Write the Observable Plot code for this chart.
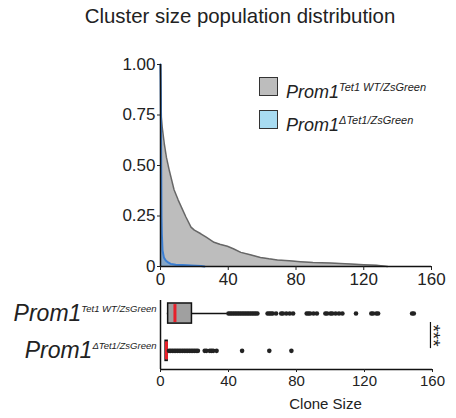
<!DOCTYPE html>
<html><head><meta charset="utf-8">
<script src="https://cdn.jsdelivr.net/npm/d3@7"></script>
<script src="https://cdn.jsdelivr.net/npm/@observablehq/plot@0.6"></script>
<style>
body{margin:0;background:#fff;}
#wrap{position:relative;width:456px;height:418px;font-family:"Liberation Sans",Arial,sans-serif;color:#222;overflow:hidden;background:#fff}
#wrap svg{position:absolute;left:0;overflow:visible}
#title{position:absolute;left:0;width:480px;top:5px;text-align:center;font-size:20.4px;white-space:nowrap}
.lg{position:absolute;left:286px;font-size:18px;line-height:18px;white-space:nowrap}
.lg i{font-style:italic}
.lg span{font-size:11px;font-style:italic;vertical-align:7px}
.sw{position:absolute;left:259px;width:17px;height:17px;border:1.5px solid #333;box-sizing:content-box}
</style></head><body><div id="wrap"></div>
<script>
const title = "Cluster size population distribution";
const gene = "Prom1";
const genotypes = ["Tet1 WT/ZsGreen", "\u0394Tet1/ZsGreen"];
const xTicks = [0, 40, 80, 120, 160];
const yTicks = [0, 0.25, 0.5, 0.75, 1];
// survival curves (fraction of clusters with size >= x)
const wtX = [0,0.5,1,2.2,3.5,5.2,8,10.4,12,15,18,20,23.8,27,31.6,35,39.5,43,47.4,53,59,64,69,76,82.6,90,100,112,120,127.5,134];
const wtSurv = [1,0.74,0.69,0.61,0.54,0.475,0.38,0.33,0.30,0.245,0.195,0.18,0.162,0.145,0.12,0.11,0.10,0.088,0.07,0.058,0.045,0.038,0.032,0.028,0.024,0.02,0.017,0.012,0.009,0.006,0];
const koX = [0,0.3,0.6,0.8,1.2,2,3.1,4.5,6,9,13,18,24,26];
const koSurv = [1,0.7,0.245,0.16,0.079,0.045,0.03,0.02,0.013,0.009,0.007,0.005,0.003,0];
// box summaries [WT, KO]
const boxMin = [4, 3];
const boxQ1 = [4.5, 3];
const boxMedian = [8.5, 3.5];
const boxQ3 = [18.5, 4.2];
const boxMax = [40, 5];
const wtOutliers = [40,41,42,43,44,45,46,47,48,49,50,51,52,53,54,55,56,57,63,64,65,66,68,71,72,74,76,78,86,87,88,90,92,97,98,100,101,103,105,107,115,124,125,127,128,148,149];
const koOutliers = [5,6,7,8,9,10,11,12,13,14,15,16,17,18,19,20,21,22,26,27,29,30,31,33,48,64,77];
const signif = "***";
const xLabel = "Clone Size";

const wrap = document.getElementById("wrap");
const font = '"Liberation Sans",Arial,sans-serif';

const wt = wtX.map((x, i) => ({x, y: wtSurv[i]}));
const ko = koX.map((x, i) => ({x, y: koSurv[i]}));

const topChart = Plot.plot({
  width: 456, height: 290,
  marginLeft: 160, marginRight: 25, marginTop: 64, marginBottom: 24,
  x: {domain: [0, 160]},
  y: {domain: [0, 1]},
  style: {fontFamily: font, color: "#222", background: "transparent", overflow: "visible"},
  marks: [
    Plot.areaY(wt, {x: "x", y: "y", fill: "#bdbdbd"}),
    Plot.lineY(wt, {x: "x", y: "y", stroke: "#676767", strokeWidth: 1.5}),
    Plot.areaY(ko, {x: "x", y: "y", fill: "#86a6c6"}),
    Plot.lineY(ko, {x: "x", y: "y", stroke: "#3b7fd4", strokeWidth: 2}),
    Plot.ruleX([0], {y1: 0, y2: 1, stroke: "#111", strokeWidth: 1.5}),
    Plot.ruleY([0], {x1: 0, x2: 160, stroke: "#111", strokeWidth: 1.5}),
    Plot.axisX({ticks: xTicks, tickSize: 4, tickPadding: 2, fontSize: 17, label: null}),
    Plot.axisY({ticks: yTicks, tickSize: 3, tickPadding: 2, fontSize: 17, label: null,
      tickFormat: d => d === 0 ? "0" : d3.format(".2f")(d)})
  ]
});
topChart.style.top = "0px";
wrap.appendChild(topChart);

const rows = [0, 1].map(i => ({row: i, min: boxMin[i], q1: boxQ1[i], med: boxMedian[i], q3: boxQ3[i], max: boxMax[i]}));
const outl = [...wtOutliers.map(v => ({v, row: 0})), ...koOutliers.map(v => ({v, row: 1}))];
const hb = 0.27;

const bottomChart = Plot.plot({
  width: 456, height: 128,
  marginLeft: 160, marginRight: 24, marginTop: 10, marginBottom: 49,
  x: {domain: [0, 160]},
  y: {domain: [-0.35, 1.5], reverse: true},
  style: {fontFamily: font, color: "#222", background: "transparent", overflow: "visible"},
  marks: [
    Plot.ruleX([0], {y1: -0.35, y2: 1.5, stroke: "#111", strokeWidth: 1.5}),
    Plot.ruleY([1.5], {x1: 0, x2: 160, stroke: "#111", strokeWidth: 1.5}),
    Plot.ruleY(rows, {y: "row", x1: "min", x2: "max", stroke: "#111", strokeWidth: 1.5}),
    Plot.rect(rows, {x1: "q1", x2: "q3", y1: d => d.row - hb, y2: d => d.row + hb, fill: "#a0a0a0", stroke: "#111", strokeWidth: 1.5}),
    Plot.ruleX(rows, {x: "med", y1: d => d.row - hb + 0.03, y2: d => d.row + hb - 0.03, stroke: "#e8202a", strokeWidth: 3}),
    Plot.dot(outl, {x: "v", y: "row", r: 2.3, fill: "#222", stroke: null}),
    Plot.ruleX([158.8], {y1: 0.24, y2: 0.94, stroke: "#111", strokeWidth: 1.2}),
    Plot.text([signif], {x: 158.8, y: 0.59, rotate: 90, dx: 3, fontSize: 19, fill: "#222"}),
    Plot.text([xLabel], {frameAnchor: "bottom", dx: 29, dy: 39, fontSize: 15, fill: "#222"}),
    Plot.axisX({ticks: xTicks, tickSize: 3, tickPadding: 3, fontSize: 15, label: null}),
    Plot.axisY({ticks: [0, 1], tickFormat: i => genotypes[i], tickSize: 0, tickPadding: 4, fontSize: 23, label: null})
  ]
});
bottomChart.style.top = "290px";
wrap.appendChild(bottomChart);

// superscript row labels
const NS = "http://www.w3.org/2000/svg";
bottomChart.querySelectorAll("text").forEach(t => {
  const s = t.textContent;
  const gi = genotypes.indexOf(s);
  if (gi < 0) return;
  t.textContent = "";
  const a = document.createElementNS(NS, "tspan");
  a.setAttribute("font-style", "italic");
  a.textContent = gene;
  const b = document.createElementNS(NS, "tspan");
  b.setAttribute("font-style", "italic");
  b.setAttribute("font-size", "9.5");
  b.setAttribute("dy", "-9");
  b.textContent = s;
  t.appendChild(a); t.appendChild(b);
});

// title
const tt = document.createElement("div");
tt.id = "title"; tt.textContent = title;
wrap.appendChild(tt);

// legend
const legendFill = ["#bdbdbd", "#a8dcf2"];
const legendTop = [77, 110];
genotypes.forEach((g, i) => {
  const sw = document.createElement("div");
  sw.className = "sw"; sw.style.top = legendTop[i] + "px"; sw.style.background = legendFill[i];
  wrap.appendChild(sw);
  const lg = document.createElement("div");
  lg.className = "lg"; lg.style.top = (legendTop[i] + 1) + "px";
  const it = document.createElement("i"); it.textContent = gene;
  const sp = document.createElement("span"); sp.textContent = g;
  lg.appendChild(it); lg.appendChild(sp);
  wrap.appendChild(lg);
});
</script></body></html>
